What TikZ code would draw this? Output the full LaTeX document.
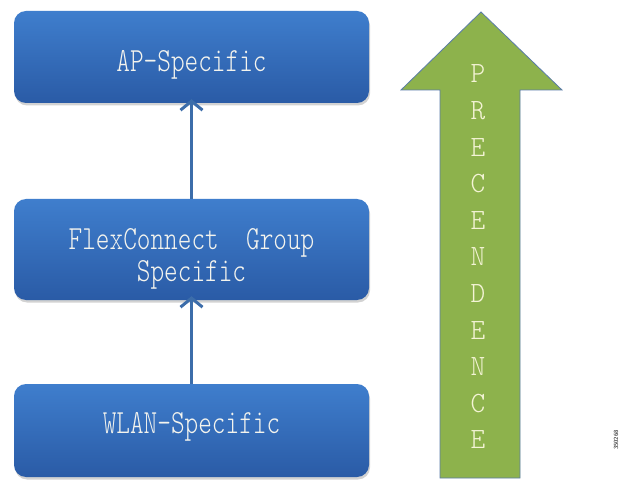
\documentclass[tikz,border=0pt]{standalone}
\usepackage{fontspec}
\setmonofont{Latin Modern Mono Light}
\usetikzlibrary{arrows.meta,shadows}
\definecolor{boxtop}{HTML}{3F7ECD}
\definecolor{boxbot}{HTML}{2A5BA6}
\definecolor{conn}{HTML}{3C6DAA}
\definecolor{arrowgreen}{HTML}{8DB24C}
\definecolor{arrowedge}{HTML}{5A7CA8}
\definecolor{txt}{HTML}{F4F4EE}
\definecolor{ptxt}{HTML}{F4F4D6}
% text line whose baseline sits #1 below the node centre
\newcommand{\tline}[2]{\makebox[0pt]{\raisebox{-#1}[0pt][0pt]{\scalebox{1}[1.3]{#2}}}}
\begin{document}
\begin{tikzpicture}[x=1pt,y=-1pt,
  box/.style={rounded corners=12pt, top color=boxtop, bottom color=boxbot,
    drop shadow={opacity=0.35, shadow xshift=1pt, shadow yshift=-2.5pt},
    minimum width=355pt, text=txt, align=center, inner sep=0pt,
    font=\ttfamily\fontsize{26}{30}\selectfont},
  conn/.style={draw=conn, line width=3pt,
    -{Straight Barb[length=9pt,width=22pt,line width=3pt]}, shorten >=-4pt},
  letter/.style={text=ptxt, font=\ttfamily\fontsize{28}{30}\selectfont, inner sep=0pt},
  bigarrow/.style={fill=arrowgreen, draw=arrowedge, line width=0.8pt, line join=miter}
]
\useasboundingbox (0,0) rectangle (624,481);
\fill[white] (0,0) rectangle (624,481);

\node[box, minimum height=92pt] (ap) at (191.5,57) {\tline{15pt}{AP-Specific}};
\node[box, minimum height=101pt] (flex) at (191.5,249.5) {\tline{0.5pt}{FlexConnect\ \ Group}\tline{32.5pt}{Specific}};
\node[box, minimum height=93pt] (wlan) at (191.5,430.5) {\tline{2.5pt}{WLAN-Specific}};

\draw[conn] (flex.north) -- (ap.south);
\draw[conn] (wlan.north) -- (flex.south);

\draw[bigarrow] (440,478) -- (440,90) -- (401,90) -- (481,12) -- (562,90) -- (520,90) -- (520,478) -- cycle;

\foreach \ch [count=\i from 0] in {P,R,E,C,E,N,D,E,N,C,E}
  \node[letter] (l\i) at (478,{74+36.6*\i}) {\scalebox{1}[1.05]{\ch}};

\node[rotate=90, text=black!70, font=\sffamily\bfseries\fontsize{6}{6}\selectfont, inner sep=0pt] (fig) at (616,440) {350268};
\end{tikzpicture}
\end{document}
